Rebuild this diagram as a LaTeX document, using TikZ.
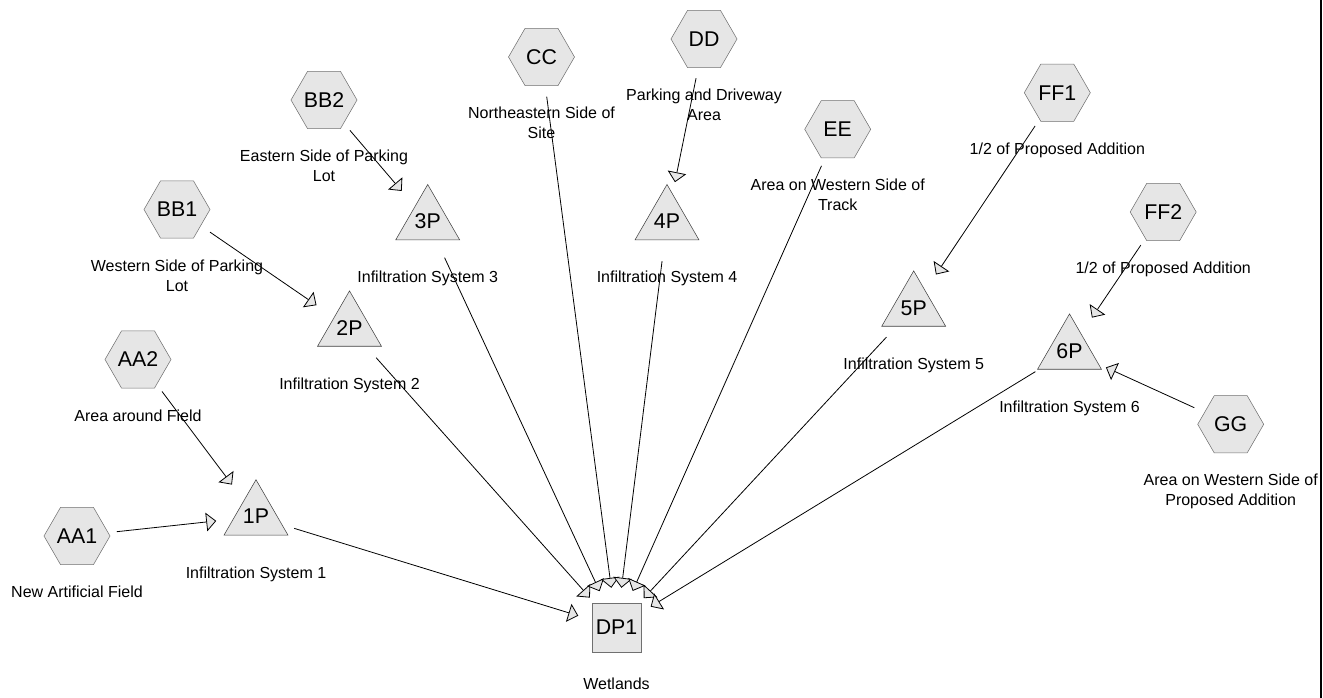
\documentclass[tikz,border=0pt]{standalone}
\usepackage{fontspec}
\setmainfont{Liberation Sans}
\usetikzlibrary{arrows.meta,positioning,shapes.geometric}
\definecolor{shapefill}{HTML}{E6E6E6}
\definecolor{shapeline}{HTML}{707070}

\begin{document}
\begin{tikzpicture}[
  x=0.75pt, y=-0.75pt,
  subcat/.style={draw=shapeline, fill=shapefill, regular polygon, regular polygon sides=6, minimum size=49.5pt, inner sep=0pt, font=\fontsize{16}{18}\selectfont},
  pond/.style={draw=black!75, fill=shapefill, regular polygon, regular polygon sides=3, minimum size=54.75pt, inner sep=0pt, font=\fontsize{16}{18}\selectfont},
  reach/.style={draw=shapeline, fill=shapefill, minimum size=36.75pt, inner sep=0pt, font=\fontsize{16}{18}\selectfont},
  caption/.style={align=center, inner sep=0pt, outer sep=0pt, font=\fontsize{12}{15}\selectfont},
  line/.style={-{Triangle[length=7.5pt, width=14pt, fill=shapefill]}, line width=0.6pt, shorten <=30pt, shorten >=30pt}
]
\useasboundingbox (0,0) rectangle (1323,698);

% subcatchments
\node[subcat] (AA1) at (77,536) {AA1};
\node[subcat] (AA2) at (138,359.5) {AA2};
\node[subcat] (BB1) at (177,209.5) {BB1};
\node[subcat] (BB2) at (324,100) {BB2};
\node[subcat] (CC) at (541.5,57) {CC};
\node[subcat] (DD) at (704,39) {DD};
\node[subcat] (EE) at (837.7,129.3) {EE};
\node[subcat] (FF1) at (1057.3,92.7) {FF1};
\node[subcat] (FF2) at (1163.2,212) {FF2};
\node[subcat] (GG) at (1230.7,424.3) {GG};

% infiltration systems
\node[pond] (1P) at (256,516.6) {1P};
\node[pond] (2P) at (349.5,327.8) {2P};
\node[pond] (3P) at (427.7,221.4) {3P};
\node[pond] (4P) at (667,221.4) {4P};
\node[pond] (5P) at (913.7,307.8) {5P};
\node[pond] (6P) at (1069.5,350.8) {6P};

% design point
\node[reach] (DP1) at (616.5,627.5) {DP1};

% captions
\node[caption, below=37.5pt of AA1.center] (AA1-t) {New Artificial Field};
\node[caption, below=37.5pt of AA2.center] (AA2-t) {Area around Field};
\node[caption, below=37.5pt of BB1.center] (BB1-t) {Western Side of Parking\\Lot};
\node[caption, below=37.5pt of BB2.center] (BB2-t) {Eastern Side of Parking\\Lot};
\node[caption, below=37.5pt of CC.center] (CC-t) {Northeastern Side of\\Site};
\node[caption, below=37.5pt of DD.center] (DD-t) {Parking and Driveway\\Area};
\node[caption, below=37.5pt of EE.center] (EE-t) {Area on Western Side of\\Track};
\node[caption, below=37.5pt of FF1.center] (FF1-t) {1/2 of Proposed Addition};
\node[caption, below=37.5pt of FF2.center] (FF2-t) {1/2 of Proposed Addition};
\node[caption, below=37.5pt of GG.center] (GG-t) {Area on Western Side of\\Proposed Addition};
\node[caption, below=37.5pt of 1P.center] (1P-t) {Infiltration System 1};
\node[caption, below=37.5pt of 2P.center] (2P-t) {Infiltration System 2};
\node[caption, below=37.5pt of 3P.center] (3P-t) {Infiltration System 3};
\node[caption, below=37.5pt of 4P.center] (4P-t) {Infiltration System 4};
\node[caption, below=37.5pt of 5P.center] (5P-t) {Infiltration System 5};
\node[caption, below=37.5pt of 6P.center] (6P-t) {Infiltration System 6};
\node[caption, below=37.5pt of DP1.center] (DP1-t) {Wetlands};

% runoff to the systems
\draw[line] (AA1.center) -- (1P.center);
\draw[line] (AA2.center) -- (1P.center);
\draw[line] (BB1.center) -- (2P.center);
\draw[line] (BB2.center) -- (3P.center);
\draw[line] (DD.center) -- (4P.center);
\draw[line] (FF1.center) -- (5P.center);
\draw[line] (FF2.center) -- (6P.center);
\draw[line] (GG.center) -- (6P.center);

% everything to the wetlands
\foreach \src in {1P,2P,3P,CC,4P,EE,5P,6P}
  \draw[line] (\src.center) -- (DP1.center);

% page edge
\coordinate (edge-top) at (1320.5,0);
\coordinate (edge-bot) at (1320.5,698);
\draw[line width=1.5pt] (edge-top) -- (edge-bot);
\end{tikzpicture}
\end{document}
